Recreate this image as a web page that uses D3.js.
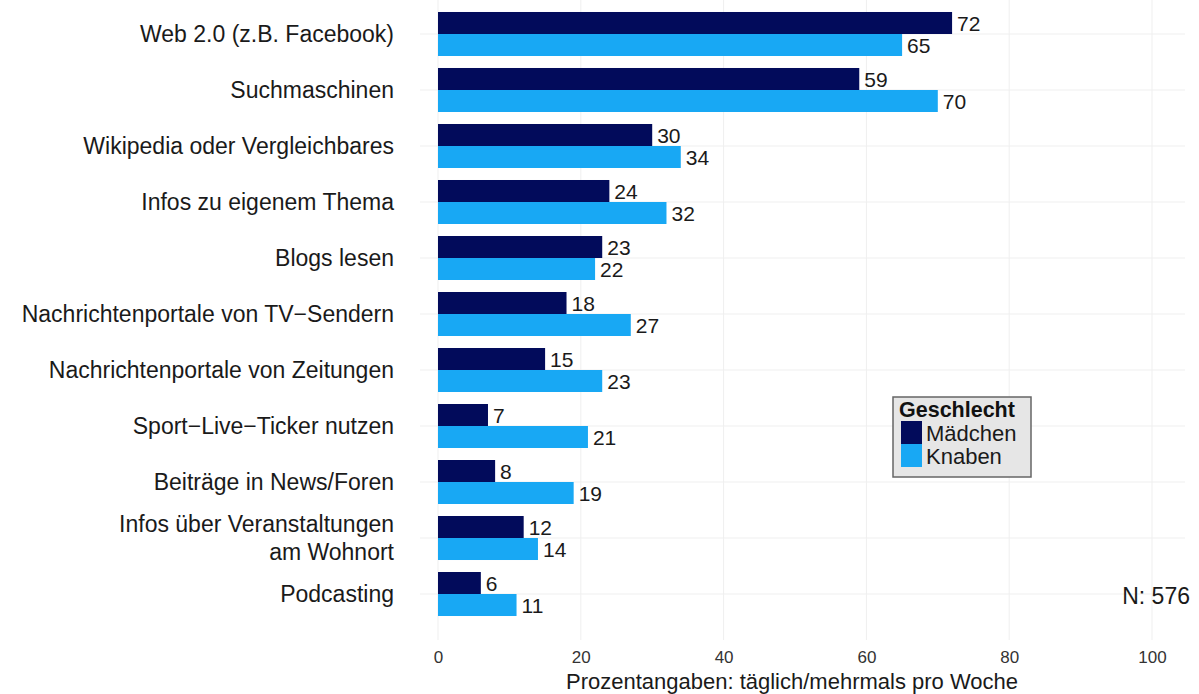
<!DOCTYPE html>
<html>
<head>
<meta charset="utf-8">
<script src="https://cdn.jsdelivr.net/npm/d3@7"></script>
<style>
  body { margin: 0; background: #fff; }
  text { font-family: "Liberation Sans", Arial, sans-serif; }
</style>
</head>
<body>
<div id="chart"></div>
<script>
// data
var categories = [
  "Web 2.0 (z.B. Facebook)",
  "Suchmaschinen",
  "Wikipedia oder Vergleichbares",
  "Infos zu eigenem Thema",
  "Blogs lesen",
  "Nachrichtenportale von TV\u2212Sendern",
  "Nachrichtenportale von Zeitungen",
  "Sport\u2212Live\u2212Ticker nutzen",
  "Beiträge in News/Foren",
  "Infos über Veranstaltungen\nam Wohnort",
  "Podcasting"
];
var maedchen = [72, 59, 30, 24, 23, 18, 15, 7, 8, 12, 6];
var knaben   = [65, 70, 34, 32, 22, 27, 23, 21, 19, 14, 11];
var series = ["Mädchen", "Knaben"];
var xTicks = [0, 20, 40, 60, 80, 100];

var width = 1199, height = 694;
var colors = { "Mädchen": "#020b5b", "Knaben": "#18a8f4" };

var svg = d3.select("#chart").append("svg")
  .attr("width", width)
  .attr("height", height);

var x = d3.scaleLinear().domain([0, 100]).range([438, 1152]);
var y = d3.scaleBand().domain(categories).range([6, 622])
  .paddingInner(0.2143).paddingOuter(0.107);
var ySub = d3.scaleBand().domain(series).range([0, y.bandwidth()]);

// grid
var grid = svg.append("g");
grid.selectAll("line.v").data(xTicks).enter().append("line")
  .attr("x1", function(d){ return x(d); })
  .attr("x2", function(d){ return x(d); })
  .attr("y1", 0).attr("y2", 640)
  .attr("stroke", "#efefef").attr("stroke-width", 1);
grid.selectAll("line.h").data(categories).enter().append("line")
  .attr("x1", 420).attr("x2", 1185)
  .attr("y1", function(d){ return y(d) + y.bandwidth() / 2; })
  .attr("y2", function(d){ return y(d) + y.bandwidth() / 2; })
  .attr("stroke", "#efefef").attr("stroke-width", 1);

// bars
var rows = categories.map(function(c, i){
  return { cat: c, vals: [
    { s: "Mädchen", v: maedchen[i] },
    { s: "Knaben", v: knaben[i] }
  ]};
});

var g = svg.selectAll("g.row").data(rows).enter().append("g")
  .attr("transform", function(d){ return "translate(0," + y(d.cat) + ")"; });

g.selectAll("rect").data(function(d){ return d.vals; }).enter().append("rect")
  .attr("x", x(0))
  .attr("y", function(d){ return ySub(d.s); })
  .attr("width", function(d){ return x(d.v) - x(0); })
  .attr("height", ySub.bandwidth())
  .attr("fill", function(d){ return colors[d.s]; });

g.selectAll("text.val").data(function(d){ return d.vals; }).enter().append("text")
  .attr("x", function(d){ return x(d.v) + 5; })
  .attr("y", function(d){ return ySub(d.s) + ySub.bandwidth() / 2; })
  .attr("dy", "0.36em")
  .attr("font-size", 21)
  .attr("fill", "#1a1a1a")
  .text(function(d){ return d.v; });

// category labels
var catLab = svg.append("g");
categories.forEach(function(c){
  var lines = c.split("\n");
  var cy = y(c) + y.bandwidth() / 2;
  var t = catLab.append("text")
    .attr("text-anchor", "end")
    .attr("font-size", 23)
    .attr("fill", "#1a1a1a");
  lines.forEach(function(l, k){
    t.append("tspan")
      .attr("x", 394)
      .attr("y", cy + (k - (lines.length - 1) / 2) * 28)
      .attr("dy", "0.36em")
      .text(l);
  });
});

// x axis
var xAxis = svg.append("g")
  .attr("transform", "translate(0,657)")
  .call(d3.axisBottom(x).tickValues(xTicks).tickSize(0).tickPadding(0));
xAxis.select(".domain").remove();
xAxis.selectAll("text")
  .attr("font-size", 17)
  .attr("fill", "#333")
  .attr("dy", "0.33em")
  .style("font-family", "Liberation Sans, Arial, sans-serif");

svg.append("text")
  .attr("x", 792).attr("y", 689)
  .attr("text-anchor", "middle")
  .attr("font-size", 22)
  .attr("fill", "#1a1a1a")
  .text("Prozentangaben: täglich/mehrmals pro Woche");

svg.append("text")
  .attr("x", 1190).attr("y", 596)
  .attr("dy", "0.36em")
  .attr("text-anchor", "end")
  .attr("font-size", 23)
  .attr("fill", "#1a1a1a")
  .text("N: 576");

// legend
var leg = svg.append("g").attr("transform", "translate(893,397)");
leg.append("rect")
  .attr("width", 138).attr("height", 80)
  .attr("fill", "#e6e6e6")
  .attr("stroke", "#666").attr("stroke-width", 1.5);
leg.append("text")
  .attr("x", 6).attr("y", 20)
  .attr("font-size", 21.5).attr("font-weight", "bold")
  .attr("fill", "#111")
  .text("Geschlecht");
series.forEach(function(s, i){
  leg.append("rect")
    .attr("x", 8).attr("y", 24 + i * 23)
    .attr("width", 21).attr("height", 23)
    .attr("fill", colors[s]);
  leg.append("text")
    .attr("x", 33).attr("y", 36 + i * 23)
    .attr("dy", "0.36em")
    .attr("font-size", 22)
    .attr("fill", "#1a1a1a")
    .text(s);
});
</script>
</body>
</html>
